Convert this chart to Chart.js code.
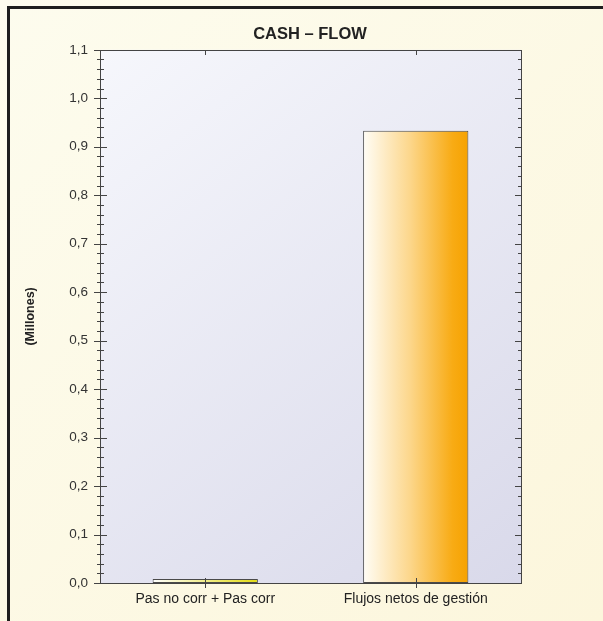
<!DOCTYPE html>
<html>
<head>
<meta charset="utf-8">
<script src="https://cdn.jsdelivr.net/npm/chart.js@4.4.1/dist/chart.umd.min.js"></script>
<style>
html,body{margin:0;padding:0;background:#fdfbea;}
#wrap{width:603px;height:621px;}
</style>
</head>
<body>
<div id="wrap"><canvas id="c" width="603" height="621"></canvas></div>
<script>
const chartTitle = 'CASH – FLOW';
const yAxisTitle = '(Millones)';
const categories = ['Pas no corr + Pas corr', 'Flujos netos de gestión'];
const values = [0.008, 0.933];
const yMin = 0, yMax = 1.1, yMinorStep = 0.02, yMajorStep = 0.1;
const barStartColors = ['#ffffff', '#fffdf6'];
const barEndColors = ['#e4dc14', '#f6a200'];
const FONT = '"Liberation Sans", Arial, sans-serif';

function fmt(v){ return v.toFixed(1).replace('.', ','); }

const bgPlugin = {
  id: 'bg',
  beforeDraw(chart){
    const {ctx, width, height, chartArea:a} = chart;
    ctx.save();
    let g = ctx.createLinearGradient(0,0,width,height);
    g.addColorStop(0,'#fdfcee'); g.addColorStop(1,'#fcf6dc');
    ctx.fillStyle = g; ctx.fillRect(0,0,width,height);
    ctx.fillStyle = '#1e1e1e';
    ctx.fillRect(7,6,width-7,3);
    ctx.fillRect(7,6,3,height-6);
    g = ctx.createLinearGradient(a.left,a.top,a.right,a.bottom);
    g.addColorStop(0,'#f6f7fc'); g.addColorStop(1,'#d9d9ea');
    ctx.fillStyle = g; ctx.fillRect(a.left,a.top,a.width,a.height);
    ctx.restore();
  },
  afterDatasetsDraw(chart){
    const {ctx, chartArea:a, scales} = chart;
    const ys = scales.y, xs = scales.x;
    ctx.save();
    ctx.strokeStyle = '#444'; ctx.lineWidth = 1;
    ctx.strokeRect(Math.round(a.left)+0.5, Math.round(a.top)+0.5, Math.round(a.width), Math.round(a.height));
    ctx.beginPath();
    ys.ticks.forEach(t => {
      const v = t.value;
      const major = Math.abs(Math.round(v*10) - v*10) < 1e-6;
      const y = Math.round(ys.getPixelForValue(v)) + 0.5;
      const L = Math.round(a.left), R = Math.round(a.right);
      if (major){ ctx.moveTo(L-6,y); ctx.lineTo(L+7,y); ctx.moveTo(R-6,y); ctx.lineTo(R,y); }
      else { ctx.moveTo(L-3,y); ctx.lineTo(L+4,y); ctx.moveTo(R-3,y); ctx.lineTo(R,y); }
    });
    categories.forEach((c,i) => {
      const x = Math.round(xs.getPixelForValue(i)) + 0.5;
      ctx.moveTo(x, Math.round(a.top)); ctx.lineTo(x, Math.round(a.top)+5);
      ctx.moveTo(x, Math.round(a.bottom)-5); ctx.lineTo(x, Math.round(a.bottom)+5);
    });
    ctx.stroke();
    ctx.restore();
  }
};

new Chart(document.getElementById('c'), {
  type: 'bar',
  data: {
    labels: categories,
    datasets: [{
      data: values,
      borderColor: '#4a4a4a',
      borderWidth: 1,
      borderSkipped: false,
      barPercentage: 0.5,
      categoryPercentage: 1,
      backgroundColor: (ctx) => {
        const chart = ctx.chart;
        if (!chart.chartArea || ctx.type !== 'data') return barEndColors[0];
        const xs = chart.scales.x;
        const i = ctx.dataIndex;
        const cx = xs.getPixelForValue(i);
        const half = xs.width / categories.length * 0.5 / 2;
        const g = chart.ctx.createLinearGradient(cx-half,0,cx+half,0);
        g.addColorStop(0, barStartColors[i]);
        if (i === 1){ g.addColorStop(0.45,'#fcd68a'); g.addColorStop(0.85,'#f8ab14'); }
        g.addColorStop(1, barEndColors[i]);
        return g;
      }
    }]
  },
  options: {
    responsive: false,
    animation: false,
    devicePixelRatio: 1,
    layout: { padding: { left: 17, top: 25, right: 0, bottom: 0 } },
    plugins: {
      legend: { display: false },
      tooltip: { enabled: false },
      title: {
        display: true, text: chartTitle, color: '#222',
        font: { family: FONT, size: 16.5, weight: 'bold' },
        padding: { top: 0, bottom: 5 }
      }
    },
    scales: {
      x: {
        grid: { display: false, drawTicks: false },
        border: { display: false },
        ticks: { color: '#222', font: { family: FONT, size: 14 }, padding: 8, maxRotation: 0 },
        afterFit(s){ s.height = 38; }
      },
      y: {
        min: yMin, max: yMax,
        grid: { display: false, drawTicks: false },
        border: { display: false },
        ticks: {
          stepSize: yMinorStep, autoSkip: false, color: '#333', padding: 12,
          font: { family: FONT, size: 13.5 },
          callback: (v) => {
            const major = Math.abs(Math.round(v/yMajorStep) - v/yMajorStep) < 1e-6;
            return major ? fmt(v) : '';
          }
        },
        title: {
          display: true, text: yAxisTitle, color: '#222',
          font: { family: FONT, size: 12.5, weight: 'bold' },
          padding: { top: 6.5, bottom: 0 }
        },
        afterFit(s){ s.width = 83; }
      },
      yRight: {
        position: 'right',
        min: yMin, max: yMax,
        grid: { display: false, drawTicks: false },
        border: { display: false },
        ticks: { display: false },
        afterFit(s){ s.width = 82; }
      }
    }
  },
  plugins: [bgPlugin]
});
</script>
</body>
</html>
